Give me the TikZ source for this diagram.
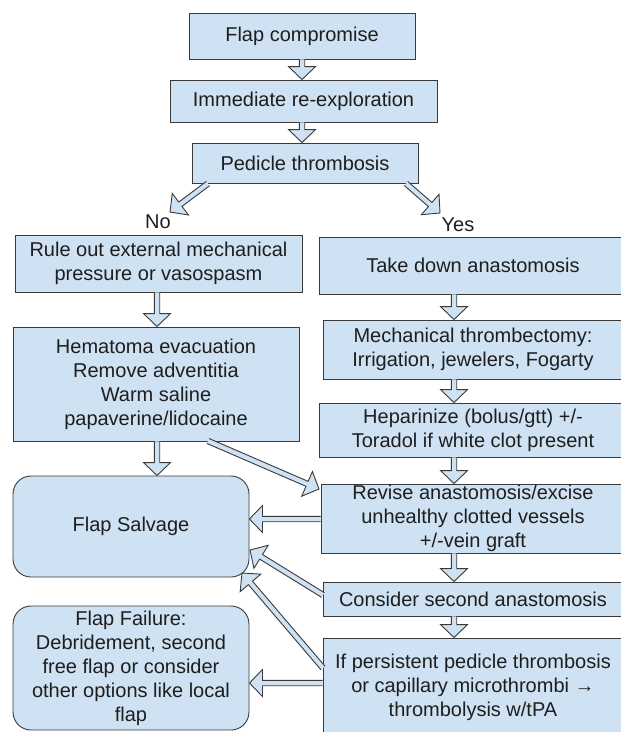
\documentclass[tikz,border=0pt]{standalone}
\usepackage{fontspec}
\setmainfont{Liberation Sans}
\usetikzlibrary{calc}
\definecolor{cfill}{HTML}{CFE2F3}
\definecolor{cbd}{HTML}{3A3A3A}
\definecolor{ctxt}{HTML}{1E1E1E}
\tikzset{
  box/.style={rectangle, draw=cbd, fill=cfill, line width=0.9pt, inner sep=0pt,
    align=center, text=ctxt, font=\fontsize{20}{24}\selectfont},
  rbox/.style={box, rounded corners=18pt},
  lbl/.style={text=ctxt, font=\fontsize{20}{24}\selectfont, inner sep=0pt},
  arrline/.style={draw=cbd, line width=0.9pt, line join=miter},
}
\newcommand{\blkarrow}[2]{%
  \coordinate (bA) at #1;
  \coordinate (bB) at #2;
  \coordinate (bC) at ($(bB)!13pt!(bA)$);
  \fill[cfill] ($(bA)!2.7pt!90:(bB)$) -- ($(bC)!2.7pt!90:(bB)$) -- ($(bC)!13.5pt!90:(bB)$)
     -- (bB) -- ($(bC)!13.5pt!-90:(bB)$) -- ($(bC)!2.7pt!-90:(bB)$) -- ($(bA)!2.7pt!-90:(bB)$) -- cycle;
  \draw[arrline] ($(bA)!2.7pt!90:(bB)$) -- ($(bC)!2.7pt!90:(bB)$) -- ($(bC)!13.5pt!90:(bB)$)
     -- (bB) -- ($(bC)!13.5pt!-90:(bB)$) -- ($(bC)!2.7pt!-90:(bB)$) -- ($(bA)!2.7pt!-90:(bB)$);
}
\begin{document}
\begin{tikzpicture}[x=1pt, y=-1pt]
\useasboundingbox (0,0) rectangle (621,732);
\clip (0,0) rectangle (621,732);
\fill[white] (0,0) rectangle (621,732);

% top column
\node[box, minimum width=226pt, minimum height=46pt] (comp) at (302,36) {Flap compromise};
\node[box, minimum width=267pt, minimum height=42pt] (imm) at (303.5,101) {Immediate re-exploration};
\node[box, minimum width=226pt, minimum height=40pt] (ped) at (305,163) {Pedicle thrombosis};
\node[lbl] (no) at (158,222) {No};
\node[lbl] (yes) at (458,225) {Yes};

% left column
\node[box, minimum width=287pt, minimum height=57pt] (rule) at (158.5,263.5) {Rule out external mechanical\\pressure or vasospasm};
\node[box, minimum width=286pt, minimum height=114pt] (hem) at (156,384) {Hematoma evacuation\\Remove adventitia\\Warm saline\\papaverine/lidocaine};
\node[rbox, minimum width=236pt, minimum height=101pt] (salv) at (131,526.5) {Flap Salvage};
\node[rbox, minimum width=236pt, minimum height=124pt] (fail) at (131,668) {Flap Failure:\\Debridement, second\\free flap or consider\\other options like local\\flap};

% right column
\node[box, minimum width=308pt, minimum height=57pt] (take) at (473,265.5) {Take down anastomosis};
\node[box, minimum width=300pt, minimum height=59pt] (mech) at (473,349.5) {Mechanical thrombectomy:\\Irrigation, jewelers, Fogarty};
\node[box, minimum width=308pt, minimum height=54pt] (hep) at (473,430) {Heparinize (bolus/gtt) +/-\\Toradol if white clot present};
\node[box, minimum width=304pt, minimum height=69pt] (rev) at (473,518.5) {Revise anastomosis/excise\\unhealthy clotted vessels\\+/-vein graft};
\node[box, minimum width=300pt, minimum height=34pt] (con) at (473,599) {Consider second anastomosis};
\node[box, minimum width=300pt, minimum height=98pt] (if) at (473,687) {If persistent pedicle thrombosis\\or capillary microthrombi →\\thrombolysis w/tPA};

% anchor coordinates for connectors
\coordinate (xc) at (302,0);
\coordinate (xl) at (157,0);
\coordinate (xr) at (454,0);
\coordinate (noS) at (208,183.5);
\coordinate (noT) at (170,212);
\coordinate (yesS) at (406,183.5);
\coordinate (yesT) at (440,213);
\coordinate (hemS) at (208,441);
\coordinate (revT) at (319,489);
\coordinate (yRS) at (0,519);
\coordinate (conS) at (323,595);
\coordinate (salvT1) at (250,550);
\coordinate (ifS) at (323,668);
\coordinate (salvT2) at (242,573);
\coordinate (yIF) at (0,683);

% connectors
\blkarrow{(xc |- comp.south)}{(xc |- imm.north)}
\blkarrow{(xc |- imm.south)}{(xc |- ped.north)}
\blkarrow{(noS)}{(noT)}
\blkarrow{(yesS)}{(yesT)}
\blkarrow{(xl |- rule.south)}{(xl |- hem.north)}
\blkarrow{(xl |- hem.south)}{(xl |- salv.north)}
\blkarrow{(hemS)}{(revT)}
\blkarrow{(xr |- take.south)}{(xr |- mech.north)}
\blkarrow{(xr |- mech.south)}{(xr |- hep.north)}
\blkarrow{(xr |- hep.south)}{(xr |- rev.north)}
\blkarrow{(rev.west |- yRS)}{(salv.east |- yRS)}
\blkarrow{(xr |- rev.south)}{(xr |- con.north)}
\blkarrow{(conS)}{(salvT1)}
\blkarrow{(xr |- con.south)}{(xr |- if.north)}
\blkarrow{(ifS)}{(salvT2)}
\blkarrow{(if.west |- yIF)}{(fail.east |- yIF)}
\end{tikzpicture}
\end{document}
